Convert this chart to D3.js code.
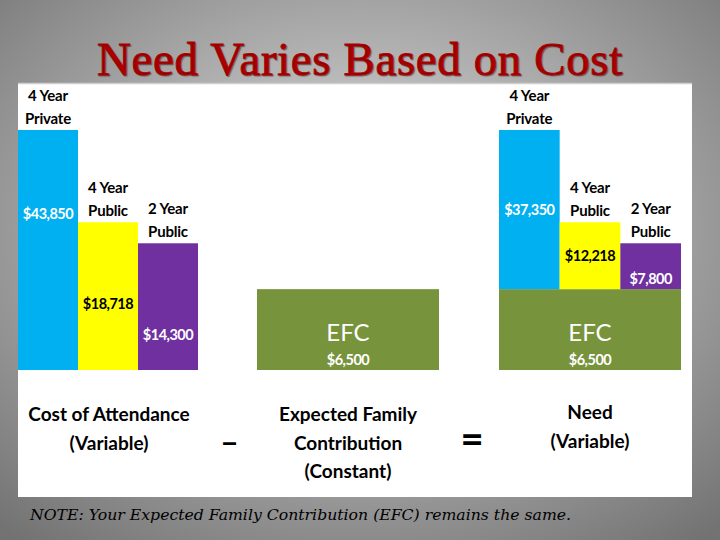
<!DOCTYPE html>
<html>
<head>
<meta charset="utf-8">
<script src="https://cdn.jsdelivr.net/npm/d3@7"></script>
<style>
  body { margin: 0; padding: 0; overflow: hidden; }
  svg { display: block; }
</style>
</head>
<body>
<div id="chart"></div>
<script>
// data
var categories = ["4 Year Private", "4 Year Public", "2 Year Public"];
var cat_lines = [["4 Year", "Private"], ["4 Year", "Public"], ["2 Year", "Public"]];
var cost_values = [43850, 18718, 14300];
var efc_value = 6500;
var need_values = [37350, 12218, 7800];
var bar_colors = ["#00b0f0", "#ffff00", "#7030a0"];
var value_colors = ["#ffffff", "#000000", "#ffffff"];

var chart_width = 720;
var chart_height = 540;
var sans = "Lato, 'Open Sans', sans-serif";

var svg = d3.select('#chart')
            .append('svg')
            .attr('width', chart_width)
            .attr('height', chart_height);

// background
var defs = svg.append('defs');
var grad = defs.append('radialGradient')
               .attr('id', 'bg')
               .attr('cx', '50%').attr('cy', '42%').attr('r', '75%');
grad.append('stop').attr('offset', '0%').attr('stop-color', '#e2e2e2');
grad.append('stop').attr('offset', '100%').attr('stop-color', '#727272');

svg.append('rect')
   .attr('width', chart_width)
   .attr('height', chart_height)
   .attr('fill', 'url(#bg)');

// title
svg.append('text')
   .attr('x', 360)
   .attr('y', 75)
   .attr('text-anchor', 'middle')
   .style('font-family', "'Liberation Serif', 'DejaVu Serif', serif")
   .style('font-size', '47px')
   .style('letter-spacing', '0.6px')
   .style('fill', '#b00000')
   .style('stroke', '#b00000')
   .style('stroke-width', '0.9px')
   .style('text-shadow', '1px 1px 1px rgba(0,0,0,0.35)')
   .text('Need Varies Based on Cost');

// white panel
svg.append('rect')
   .attr('x', 18).attr('y', 83)
   .attr('width', 674).attr('height', 414)
   .attr('fill', '#ffffff');
svg.append('line')
   .attr('x1', 18).attr('x2', 692)
   .attr('y1', 83.5).attr('y2', 83.5)
   .attr('stroke', '#cfcfcf')
   .attr('stroke-width', 1.5);

// scales
var y = d3.scalePow().exponent(0.57)
          .domain([0, d3.max(cost_values)])
          .range([370, 130]);

var x_left = d3.scaleBand().domain(categories).range([18, 198]).padding(0);
var x_right = d3.scaleBand().domain(categories).range([499, 681]).padding(0);

var left_label_frac = [0.35, 0.55, 0.72];
var right_label_frac = [0.5, 0.5, 0.78];

function category_labels(xs, tops){
    var g = svg.append('g');
    categories.forEach(function(c, i){
        var cx = xs(c) + xs.bandwidth() / 2;
        cat_lines[i].forEach(function(line, j){
            g.append('text')
             .attr('x', cx)
             .attr('y', tops[i] - 6 - (1 - j) * 23)
             .attr('text-anchor', 'middle')
             .style('font-family', sans)
             .style('font-weight', 'bold')
             .style('font-size', '15px')
             .style('letter-spacing', '-0.2px')
             .style('fill', '#000')
             .text(line);
        });
    });
}

// cost of attendance bars
svg.selectAll('rect.cost')
   .data(cost_values)
   .enter()
   .append('rect')
   .attr('class', 'cost')
   .attr('x', function(d, i){ return x_left(categories[i]); })
   .attr('y', function(d){ return y(d); })
   .attr('width', x_left.bandwidth())
   .attr('height', function(d){ return y(0) - y(d); })
   .attr('fill', function(d, i){ return bar_colors[i]; });

svg.selectAll('text.cost-val')
   .data(cost_values)
   .enter()
   .append('text')
   .attr('class', 'cost-val')
   .attr('x', function(d, i){ return x_left(categories[i]) + x_left.bandwidth() / 2; })
   .attr('y', function(d, i){ return y(d) + (y(0) - y(d)) * left_label_frac[i] + 5; })
   .attr('text-anchor', 'middle')
   .style('font-family', sans)
   .style('font-weight', 'bold')
   .style('font-size', '14.5px')
   .style('letter-spacing', '-0.5px')
   .style('fill', function(d, i){ return value_colors[i]; })
   .text(function(d){ return '$' + d3.format(',')(d); });

category_labels(x_left, cost_values.map(function(d){ return y(d); }));

// EFC boxes (middle and under need bars)
var efc_boxes = [[257, 439], [x_right.range()[0], x_right.range()[1]]];
efc_boxes.forEach(function(b){
    svg.append('rect')
       .attr('x', b[0])
       .attr('y', y(efc_value))
       .attr('width', b[1] - b[0])
       .attr('height', y(0) - y(efc_value))
       .attr('fill', '#77933c');
    var cx = (b[0] + b[1]) / 2;
    svg.append('text')
       .attr('x', cx).attr('y', 341)
       .attr('text-anchor', 'middle')
       .style('font-family', sans)
       .style('font-size', '24px')
       .style('fill', '#fff')
       .text('EFC');
    svg.append('text')
       .attr('x', cx).attr('y', 365)
       .attr('text-anchor', 'middle')
       .style('font-family', sans)
       .style('font-weight', 'bold')
       .style('font-size', '14.5px')
       .style('letter-spacing', '-0.5px')
       .style('fill', '#fff')
       .text('$' + d3.format(',')(efc_value));
});

// need bars stacked on EFC
svg.selectAll('rect.need')
   .data(need_values)
   .enter()
   .append('rect')
   .attr('class', 'need')
   .attr('x', function(d, i){ return x_right(categories[i]); })
   .attr('y', function(d){ return y(d + efc_value); })
   .attr('width', x_right.bandwidth())
   .attr('height', function(d){ return y(efc_value) - y(d + efc_value); })
   .attr('fill', function(d, i){ return bar_colors[i]; });

svg.selectAll('text.need-val')
   .data(need_values)
   .enter()
   .append('text')
   .attr('class', 'need-val')
   .attr('x', function(d, i){ return x_right(categories[i]) + x_right.bandwidth() / 2; })
   .attr('y', function(d, i){
       var top = y(d + efc_value), h = y(efc_value) - top;
       return top + h * right_label_frac[i] + 5;
   })
   .attr('text-anchor', 'middle')
   .style('font-family', sans)
   .style('font-weight', 'bold')
   .style('font-size', '14.5px')
   .style('letter-spacing', '-0.5px')
   .style('fill', function(d, i){ return value_colors[i]; })
   .text(function(d){ return '$' + d3.format(',')(d); });

category_labels(x_right, need_values.map(function(d){ return y(d + efc_value); }));

// equation captions
var captions = [
    {x: 109, lines: ['Cost of Attendance', '(Variable)'], y0: 421},
    {x: 348, lines: ['Expected Family', 'Contribution', '(Constant)'], y0: 421},
    {x: 590, lines: ['Need', '(Variable)'], y0: 419}
];
captions.forEach(function(c){
    c.lines.forEach(function(line, j){
        svg.append('text')
           .attr('x', c.x)
           .attr('y', c.y0 + j * 28.5)
           .attr('text-anchor', 'middle')
           .style('font-family', sans)
           .style('font-weight', 'bold')
           .style('font-size', '19px')
           .style('fill', '#000')
           .text(line);
    });
});

svg.append('text')
   .attr('x', 229.5).attr('y', 453)
   .attr('text-anchor', 'middle')
   .style('font-family', sans)
   .style('font-weight', 'bold')
   .style('font-size', '32px')
   .text('\u2013');
svg.append('text')
   .attr('x', 472).attr('y', 453)
   .attr('text-anchor', 'middle')
   .style('font-family', sans)
   .style('font-weight', 'bold')
   .style('font-size', '40px')
   .text('=');

// note
svg.append('text')
   .attr('x', 30).attr('y', 520)
   .style('font-family', "'DejaVu Serif', serif")
   .style('font-style', 'italic')
   .style('font-size', '15.7px')
   .style('fill', '#000')
   .text('NOTE: Your Expected Family Contribution (EFC) remains the same.');
</script>
</body>
</html>
